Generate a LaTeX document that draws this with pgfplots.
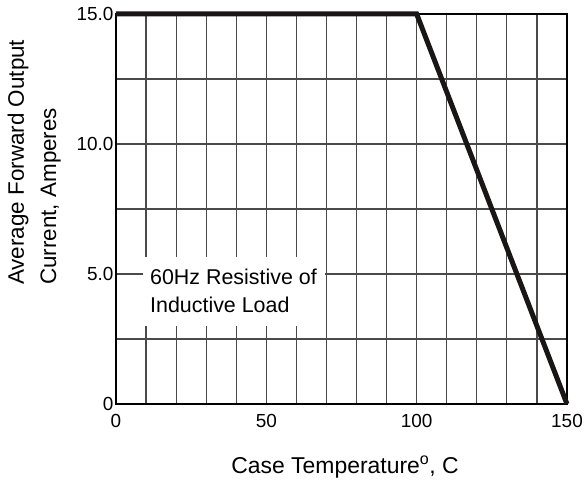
\documentclass[border=0pt]{standalone}
\usepackage{fontspec}
\setmainfont{Liberation Sans}
\usepackage{pgfplots}
\pgfplotsset{compat=1.18}
\definecolor{lineblk}{HTML}{1A1616}
\definecolor{gridc}{HTML}{4A4A4A}
\begin{document}
\begin{tikzpicture}
\begin{axis}[name=ax, scale only axis, width=451bp, height=390bp,
 xmin=0, xmax=150, ymin=0, ymax=15,
 xtick={0,50,100,150}, minor xtick={10,20,...,140},
 ytick={0,5,10,15}, minor ytick={2.5,7.5,12.5},
 yticklabels={0,5.0,10.0,15.0},
 grid=both,
 major grid style={gridc, line width=1.2bp},
 minor grid style={gridc, line width=1.2bp},
 major tick length=0pt, minor tick length=0pt,
 tick style={draw=none},
 axis line style={black, line width=1.3bp},
 ticklabel style={font=\fontsize{19}{22}\selectfont},
 /pgf/number format/assume math mode=true,
 xticklabel style={yshift=-7bp},
 yticklabel style={xshift=1bp},
 clip=false,
]
\addplot[lineblk, line width=5bp, mark=none] coordinates {(0,15) (100,15) (150,0)};
\fill[white] (axis cs:9,3) rectangle (axis cs:69.5,5.65);
\node[anchor=base west, inner sep=0pt, font=\fontsize{21.5}{24}\selectfont] at (axis cs:11.3,4.58) {60Hz Resistive of};
\node[anchor=base west, inner sep=0pt, font=\fontsize{21.5}{24}\selectfont] at (axis cs:11.3,3.5) {Inductive Load};
\end{axis}
\node[anchor=base west, rotate=90, inner sep=0pt, font=\fontsize{22.5}{25}\selectfont] at ([shift={(-92bp,119bp)}]ax.south west) {Average Forward Output};
\node[anchor=base west, rotate=90, inner sep=0pt, font=\fontsize{22.5}{25}\selectfont] at ([shift={(-60bp,119bp)}]ax.south west) {Current, Amperes};
\node[anchor=base, inner sep=0pt, font=\fontsize{23}{26}\selectfont] at ([shift={(3.5bp,-69bp)}]ax.south) {Case Temperature\textsuperscript{o}, C};
\pgfresetboundingbox
\path ([shift={(-116bp,-80bp)}]ax.south west) rectangle ([shift={(19bp,14bp)}]ax.north east);
\end{tikzpicture}
\end{document}
